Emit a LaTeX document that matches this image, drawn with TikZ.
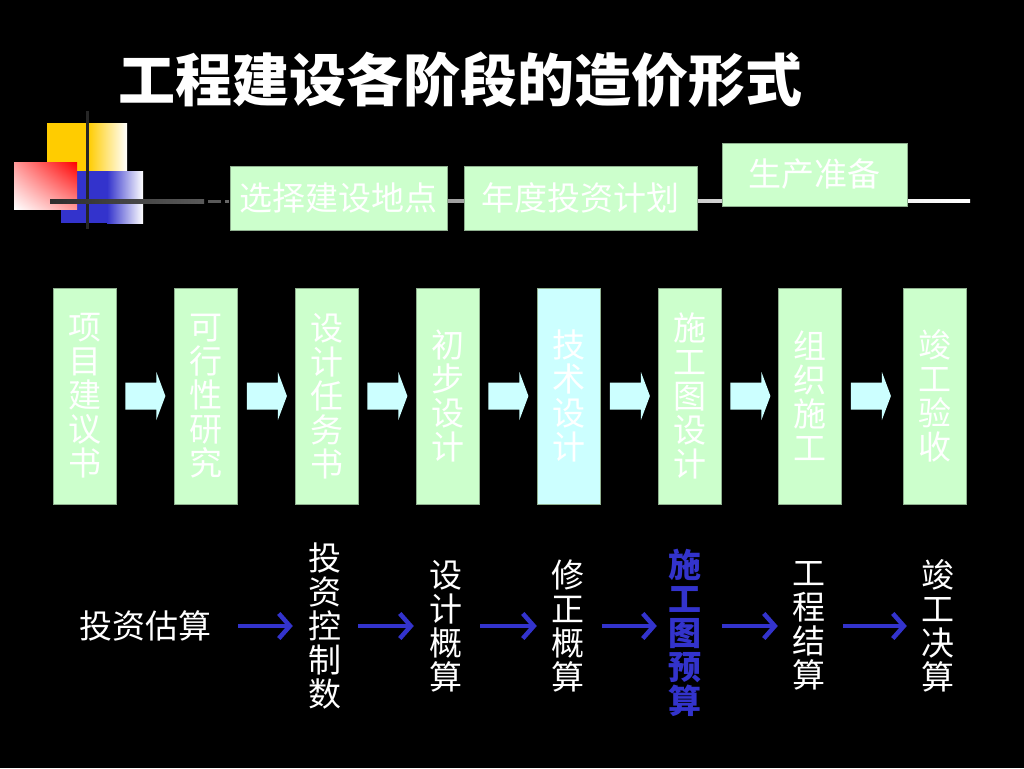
\documentclass[tikz,border=0pt]{standalone}
\usepackage{fontspec}
\newfontfamily\cjk{Noto Sans CJK SC}
\usetikzlibrary{arrows.meta,calc,shadings}
\definecolor{boxgreen}{HTML}{CCFFCC}
\definecolor{boxcyan}{HTML}{CCFFFF}
\definecolor{arrblue}{HTML}{3333CC}
\definecolor{gold}{HTML}{FFCC00}
\definecolor{edgegreen}{HTML}{8FAF8F}
\definecolor{tlgray}{HTML}{777777}
\newcommand\blockarrow[1]{%
  \fill[boxcyan] ($(#1.east)+(9,-13.5)$) -- ++(31,0) -- ++(0,-10.5)
    -- ($(#1.east)+(49,0)$) -- ($(#1.east)+(40,24)$) -- ++(0,-10.5)
    -- ($(#1.east)+(9,13.5)$) -- cycle;}
\begin{document}
\begin{tikzpicture}[x=1pt,y=-1pt,
  txt/.style={text=white,font=\cjk\fontsize{33}{34}\selectfont},
  vbox/.style={txt,draw=edgegreen,line width=0.8pt,fill=boxgreen,minimum width=63pt,minimum height=216pt,inner sep=0pt,align=center},
  hbox/.style={txt,draw=edgegreen,line width=0.8pt,fill=boxgreen,inner sep=0pt},
  lbl/.style={txt,inner sep=0pt,align=center},
  barrow/.style={draw=arrblue,line width=4.5pt,-{Straight Barb[length=11pt,width=25pt]}},
]
\fill[black] (0,0) rectangle (1024,768);
\useasboundingbox (0,0) rectangle (1024,768);

% title
\node[text=white,inner sep=0pt,font=\cjk\bfseries\fontsize{57}{60}\selectfont] (title) at (460,80) {工程建设各阶段的造价形式};

% decoration
\fill[gold] (47,123) rectangle (88,171);
\shade[left color=gold,right color=white] (88,123) rectangle (127,171);
\fill[arrblue] (61,171) rectangle (107,223);
\shade[left color=arrblue,right color=white] (107,171) rectangle (143,223);
\shade[upper right=red,lower left=white,upper left=red!40!white,lower right=red!40!white] (14,162) rectangle (77,209);
\draw[line width=3pt,color=black!85] (87,111) -- (87,229);
\shade[left color=black!82,right color=black!65] (50,199.5) rectangle (204,203);
\fill[black!65] (208,199.5) rectangle (221,203);
\fill[black!60] (225,199.5) rectangle (229,203);

% timeline
\coordinate (tlstart) at (230,201);
\coordinate (tlend) at (970,201);
\shade[left color=tlgray,right color=white] ($(tlstart)+(0,-1.5)$) rectangle ($(tlend)+(0,1.5)$);

\node[hbox,minimum width=217pt,minimum height=64pt] (tb1) at (338.5,198) {选择建设地点};
\node[hbox,minimum width=233pt,minimum height=64pt] (tb2) at (580.5,198) {年度投资计划};
\node[hbox,minimum width=185pt,minimum height=63pt] (tb3) at (814.5,174.5) {生产准备};

% stage boxes
\node[vbox] (b1) at (84.5,396) {项\\目\\建\\议\\书};
\node[vbox] (b2) at (206,396) {可\\行\\性\\研\\究};
\node[vbox] (b3) at (326.5,396) {设\\计\\任\\务\\书};
\node[vbox] (b4) at (447.5,396) {初\\步\\设\\计};
\node[vbox,fill=boxcyan] (b5) at (569,396) {技\\术\\设\\计};
\node[vbox] (b6) at (689.5,396) {施\\工\\图\\设\\计};
\node[vbox] (b7) at (810,396) {组\\织\\施\\工};
\node[vbox] (b8) at (935,396) {竣\\工\\验\\收};
\foreach \n in {b1,b2,b3,b4,b5,b6,b7}{\blockarrow{\n}}

% cost forms
\node[lbl] (t1) at (145,626) {投资估算};
\node[lbl] (t2) at (325,626) {投\\资\\控\\制\\数};
\node[lbl] (t3) at (446,626) {设\\计\\概\\算};
\node[lbl] (t4) at (567.5,626) {修\\正\\概\\算};
\node[lbl,text=arrblue,font=\cjk\bfseries\fontsize{33}{34}\selectfont] (t5) at (685,633) {施\\工\\图\\预\\算};
\node[lbl] (t6) at (809,626) {工\\程\\结\\算};
\node[lbl] (t7) at (938,626) {竣\\工\\决\\算};

\draw[barrow,shorten <=27pt,shorten >=15.5pt] (t1.east) -- (t2.west);
\draw[barrow,shorten <=16.5pt,shorten >=15.5pt] (t2.east) -- (t3.west);
\draw[barrow,shorten <=17.5pt,shorten >=14pt] (t3.east) -- (t4.west);
\draw[barrow,shorten <=18pt,shorten >=11.5pt] (t4.east) -- (t4.east -| t5.west);
\draw[barrow,shorten <=20.5pt,shorten >=14.5pt] (t5.east |- t6.west) -- (t6.west);
\draw[barrow,shorten <=17.5pt,shorten >=14.5pt] (t6.east) -- (t7.west);
\end{tikzpicture}
\end{document}
